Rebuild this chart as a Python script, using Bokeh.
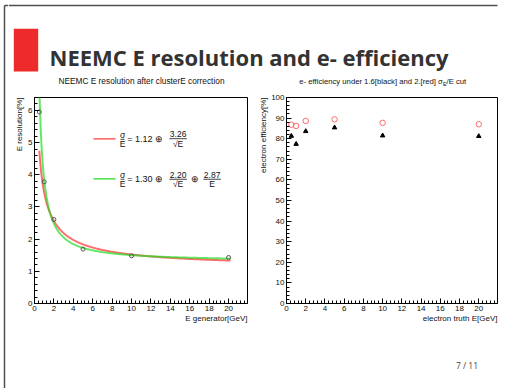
import numpy as np
from bokeh.plotting import figure
from bokeh.layouts import column, row
from bokeh.models import Range1d, SingleIntervalTicker, Title
from bokeh.core.properties import value
from bokeh.embed import file_html
from bokeh.resources import INLINE

# ---------------- data ----------------
slide_title = "NEEMC E resolution and e- efficiency"
page_label = "7 / 11"

res_title = "NEEMC E resolution after clusterE correction"
res_xlabel = "E generator[GeV]"
res_ylabel = "E resolution[%]"
e_generator = [0.5, 1.0, 2.0, 5.0, 10.0, 20.0]
e_resolution = [5.95, 3.78, 2.61, 1.69, 1.48, 1.43]

# fitted resolution: sigma/E = a (+) b/sqrt(E) [(+) c/E]
red_const, red_stoch = 1.12, 3.26
green_const, green_stoch, green_noise = 1.30, 2.20, 2.87
fit_lo, fit_hi = 0.5, 20.2

eff_title_main = "e- efficiency under 1.6[black] and 2.[red] σ"
eff_title_sub = "E"
eff_title_tail = "/E cut"
eff_xlabel = "electron truth E[GeV]"
eff_ylabel = "electron efficiency[%]"
e_truth = [0.5, 1.0, 2.0, 5.0, 10.0, 20.0]
eff_cut_1p6 = [81.3, 77.4, 83.6, 85.4, 81.5, 81.2]
eff_cut_2p0 = [86.8, 86.2, 88.6, 89.4, 87.7, 87.0]

# ---------------- styling ----------------
FONT = "Liberation Sans"
SLIDE_FONT = "Open Sans"
X_MAX = 21.95
BORDER = "#505050"
RED = "#ff3b3b"
GREEN = "#22dd22"
INK = "#111111"


def blank(width, height, x0, x1, y_bottom, y_top):
    p = figure(width=width, height=height, output_backend="svg", toolbar_location=None,
               x_range=Range1d(x0, x1), y_range=Range1d(y_bottom, y_top),
               x_axis_type=None, y_axis_type=None, min_border=0,
               background_fill_color="white", border_fill_color="white",
               outline_line_color=None)
    p.grid.visible = False
    return p


def axis_title(text, standoff):
    return Title(text=text, align="right", text_font=FONT, text_font_size="8px",
                 text_font_style="normal", text_color=INK, standoff=standoff, offset=0)


def chart(width, border_left, y_max, y_step, xlabel, ylabel, ylabel_standoff):
    """ROOT-style frame: inward ticks, titles flush with the axis ends."""
    p = figure(width=width, height=252, output_backend="svg", toolbar_location=None,
               x_range=Range1d(0, X_MAX), y_range=Range1d(0, y_max),
               min_border_left=border_left, min_border_right=8,
               min_border_top=9, min_border_bottom=37,
               background_fill_color="white", border_fill_color="white",
               outline_line_color="black", outline_line_width=1)
    p.grid.visible = False
    p.xaxis.ticker = SingleIntervalTicker(interval=2, num_minor_ticks=5)
    p.yaxis.ticker = SingleIntervalTicker(interval=y_step, num_minor_ticks=5)
    for ax in (p.xaxis[0], p.yaxis[0]):
        ax.axis_line_color = "black"
        ax.major_tick_line_color = "black"
        ax.minor_tick_line_color = "black"
        ax.major_tick_in = 5
        ax.major_tick_out = 0
        ax.minor_tick_in = 3
        ax.minor_tick_out = 0
        ax.major_label_text_font = FONT
        ax.major_label_text_font_size = "8px"
        ax.major_label_text_color = INK
        ax.major_label_standoff = 2
        ax.axis_label_standoff = 0
    p.add_layout(axis_title(xlabel, -4), "below")
    p.add_layout(axis_title(ylabel, ylabel_standoff), "left")
    return p


# ---------------- slide border strip (left edge, full height) ----------------
strip = blank(8, 388, 0, 8, 388, 0)
strip.segment(x0=[4], y0=[5], x1=[4], y1=[388], line_color=BORDER, line_width=1.5)
strip.segment(x0=[4], y0=[5], x1=[8], y1=[5], line_color=BORDER, line_width=1.5)

# ---------------- header: slide title and chart titles ----------------
head = blank(497, 88, 8, 505, 88, 0)
head.segment(x0=[8], y0=[5], x1=[497], y1=[5], line_color=BORDER, line_width=1.5)
head.quad(left=[13.3], right=[37.7], top=[28.3], bottom=[71], fill_color="#ee2b2b", line_color=None)
head.text(x=[49], y=[56], text=[slide_title], text_font=value(SLIDE_FONT), text_font_style="bold",
          text_font_size="22px", text_color="#333333", text_baseline="alphabetic", text_align="left")
head.text(x=[141], y=[80.5], text=[res_title], text_font=value(FONT), text_font_size="8.3px",
          text_color=INK, text_baseline="middle", text_align="center")
head.text(x=[442.3], y=[80.5], text=[eff_title_main], text_font=value(FONT), text_font_size="7.7px",
          text_color=INK, text_baseline="middle", text_align="right")
head.text(x=[442.6], y=[83], text=[eff_title_sub], text_font=value(FONT), text_font_size="5.5px",
          text_color=INK, text_baseline="middle", text_align="left")
head.text(x=[446], y=[80.5], text=[eff_title_tail], text_font=value(FONT), text_font_size="7.7px",
          text_color=INK, text_baseline="middle", text_align="left")

# ---------------- resolution chart ----------------
res = chart(247, 26, 6.4, 1, res_xlabel, res_ylabel, 3)
E = np.linspace(fit_lo, fit_hi, 400)
red_curve = np.sqrt(red_const ** 2 + red_stoch ** 2 / E)
green_curve = np.sqrt(green_const ** 2 + green_stoch ** 2 / E + green_noise ** 2 / E ** 2)
res.line(E, red_curve, line_color=RED, line_width=2, line_alpha=0.75)
res.line(E, green_curve, line_color=GREEN, line_width=2, line_alpha=0.7)
res.scatter(e_generator, e_resolution, marker="circle", size=4, fill_color=None,
            line_color="#555555", line_width=1)


# fit legend (TLatex-like fractions)
def legend_text(x, y, s, size, align="left"):
    res.text(x=[x], y=[y], text=[s], text_font=value(FONT), text_font_size=size,
             text_color=INK, text_baseline="middle", text_align=align)


def frac(xc, y_bar, half_w, num, den, size="8.5px"):
    res.segment(x0=[xc - half_w], y0=[y_bar], x1=[xc + half_w], y1=[y_bar],
                line_color=INK, line_width=0.8)
    legend_text(xc, y_bar + 0.14, num, size, "center")
    legend_text(xc, y_bar - 0.16, den, size, "center")


res.segment(x0=[6.08], y0=[5.117], x1=[8.35], y1=[5.117], line_color=RED, line_width=1.3)
frac(9.07, 5.10, 0.2, "σ", "E")
legend_text(9.55, 5.10, f"= {red_const:.2f} ⊕", "9px")
frac(14.8, 5.12, 0.9, f"{red_stoch:.2f}", "√E")

res.segment(x0=[6.08], y0=[3.874], x1=[8.35], y1=[3.874], line_color=GREEN, line_width=1.3)
frac(9.07, 3.86, 0.2, "σ", "E")
legend_text(9.55, 3.86, f"= {green_const:.2f} ⊕", "9px")
frac(14.8, 3.86, 0.9, f"{green_stoch:.2f}", "√E")
legend_text(16.5, 3.86, "⊕", "9px", "center")
frac(18.3, 3.86, 0.9, f"{green_noise:.2f}", "E")

# ---------------- efficiency chart ----------------
eff = chart(250, 29, 100, 10, eff_xlabel, eff_ylabel, 2)
eff.scatter(e_truth, eff_cut_1p6, marker="triangle", size=4.5, fill_color="black", line_color="black")
eff.scatter(e_truth, eff_cut_2p0, marker="circle", size=5.5, fill_color=None,
            line_color="#ff6a6a", line_width=1)

# ---------------- footer ----------------
foot = blank(497, 48, 8, 505, 388, 340)
foot.text(x=[466.5], y=[364.7], text=[page_label], text_font=value(SLIDE_FONT), text_font_size="8.5px",
          text_color="#444444", text_baseline="middle", text_align="center")

layout = row(strip, column(head, row(res, eff), foot))
open("out.html", "w").write(file_html(layout, INLINE))
